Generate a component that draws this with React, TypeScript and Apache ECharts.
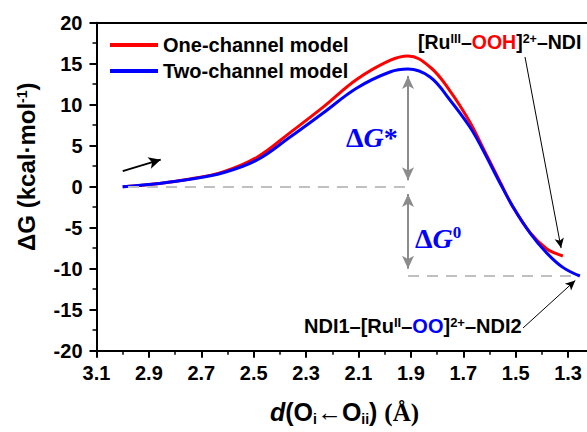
import React, { useEffect, useRef } from "react";
import * as echarts from "echarts";

const seriesNames = ["One-channel model", "Two-channel model"];

const oneChannelD = [3.0, 2.86, 2.743, 2.617, 2.487, 2.361, 2.235, 2.106, 1.98, 1.911, 1.827, 1.751, 1.675, 1.629, 1.56, 1.51, 1.445, 1.381, 1.342, 1.32];
const oneChannelG = [0, 0.4, 0.95, 1.8, 3.6, 6.6, 9.7, 13.1, 15.4, 15.94, 14.6, 11.7, 7.9, 5.0, 0.6, -2.5, -5.6, -7.6, -8.2, -8.45];

const twoChannelD = [3.0, 2.86, 2.743, 2.617, 2.487, 2.361, 2.235, 2.106, 1.98, 1.911, 1.827, 1.751, 1.675, 1.629, 1.56, 1.51, 1.445, 1.381, 1.32, 1.255];
const twoChannelG = [0, 0.4, 0.9, 1.7, 3.26, 6.06, 8.99, 12.04, 13.99, 14.35, 13.38, 10.57, 7.28, 4.72, 0.45, -2.47, -5.65, -8.1, -9.84, -10.89];

const xMin = 1.1;
const xMax = 3.1;
const xStep = 0.2;
const xFirstLabel = 1.3;
const yMin = -20;
const yMax = 20;
const yStep = 5;

// annotation anchors (data units)
const barrierD = 1.911;
const productG = -10.89;
const productD = 1.26;

const SANS = "'Liberation Sans', Arial, sans-serif";
const SERIF = "'Liberation Serif', 'Times New Roman', serif";

export default function App() {
  const ref = useRef<HTMLDivElement>(null);
  useEffect(() => {
    if (!ref.current) return;
    const chart = echarts.init(ref.current, undefined, { renderer: "svg" });
    const pair = (xs: number[], ys: number[]) => xs.map((x, i) => [x, ys[i]]);
    const sup = (size: number) => ({ fontSize: size, fontWeight: "bold", fontFamily: SANS, verticalAlign: "top", lineHeight: size, fill: "#000", color: "#000" });

    const grayArrow = { color: "#8c8c8c", width: 2, type: "solid" };
    const dashGray = { color: "#c0c0c0", width: 2, type: [11, 8] };
    const blackLine = { color: "#000", width: 1, type: "solid" };

    chart.setOption({
      animation: false,
      backgroundColor: "#fff",
      grid: { left: 96.5, top: 22.7, width: 524, height: 328, containLabel: false, outerBoundsMode: "none" },
      legend: {
        data: seriesNames,
        orient: "vertical",
        left: 105,
        top: 30,
        itemWidth: 48,
        itemHeight: 4,
        itemGap: 6,
        icon: "rect",
        textStyle: { fontFamily: SANS, fontWeight: "bold", fontSize: 20, color: "#000" },
      },
      xAxis: [
        {
          type: "value",
          min: xMin,
          max: xMax,
          interval: xStep,
          inverse: true,
          position: "bottom",
          axisLine: { show: true, onZero: false, lineStyle: { color: "#000", width: 2 } },
          axisTick: { show: true, inside: false, length: 7, lineStyle: { color: "#000", width: 2 } },
          minorTick: { show: true, splitNumber: 2, length: 4, lineStyle: { color: "#000", width: 1.5 } },
          splitLine: { show: false },
          axisLabel: {
            margin: 12,
            formatter: (v: number) => (v < xFirstLabel - 0.01 ? "" : v.toFixed(1)),
            fontFamily: SANS,
            fontWeight: "bold",
            fontSize: 20,
            color: "#000",
          },
          name: "{it|d}{n|(O}{sub|i}{n|←O}{sub|ii}{n|) }{serif|(Å)}",
          nameLocation: "middle",
          nameGap: 44,
          nameTextStyle: {
            padding: [0, 28, 0, 0],
            rich: {
              it: { fontFamily: SANS, fontStyle: "italic", fontWeight: "bold", fontSize: 25, color: "#000", verticalAlign: "top", lineHeight: 26 },
              n: { fontFamily: SANS, fontWeight: "bold", fontSize: 25, color: "#000", verticalAlign: "top", lineHeight: 26 },
              serif: { fontFamily: SERIF, fontWeight: "bold", fontSize: 25, color: "#000", verticalAlign: "top", lineHeight: 26 },
              sub: { fontFamily: SANS, fontWeight: "bold", fontSize: 14, color: "#000", verticalAlign: "bottom", lineHeight: 14, padding: [24, 0, 0, 0] },
            },
          },
        },
        {
          type: "value",
          min: xMin,
          max: xMax,
          interval: xStep,
          inverse: true,
          position: "top",
          axisLine: { show: true, onZero: false, lineStyle: { color: "#000", width: 2 } },
          axisTick: { show: false },
          axisLabel: { show: false },
          splitLine: { show: false },
        },
      ],
      yAxis: {
        type: "value",
        min: yMin,
        max: yMax,
        interval: yStep,
        axisLine: { show: true, onZero: false, lineStyle: { color: "#000", width: 2 } },
        axisTick: { show: true, inside: false, length: 7, lineStyle: { color: "#000", width: 2 } },
        minorTick: { show: true, splitNumber: 2, length: 4, lineStyle: { color: "#000", width: 1.5 } },
        splitLine: { show: false },
        axisLabel: { margin: 14, fontFamily: SANS, fontWeight: "bold", fontSize: 20, color: "#000" },
        name: "{n|ΔG (kcal·mol}{sup|-1}{n|)}",
        nameLocation: "middle",
        nameRotate: 90,
        nameGap: 56,
        nameTextStyle: {
          padding: [0, 0, 0, 40],
          rich: {
            n: { fontFamily: SANS, fontWeight: "bold", fontSize: 24, color: "#000", verticalAlign: "top", lineHeight: 26 },
            sup: sup(14),
          },
        },
      },
      series: [
        {
          name: seriesNames[0],
          type: "line",
          data: pair(oneChannelD, oneChannelG),
          smooth: 0.4,
          showSymbol: false,
          symbol: "none",
          lineStyle: { color: "#ff0000", width: 3 },
          itemStyle: { color: "#ff0000" },
          z: 3,
        },
        {
          name: seriesNames[1],
          type: "line",
          data: pair(twoChannelD, twoChannelG),
          smooth: 0.4,
          showSymbol: false,
          symbol: "none",
          lineStyle: { color: "#0000ff", width: 3 },
          itemStyle: { color: "#0000ff" },
          z: 4,
        },
        {
          name: "annotations",
          type: "line",
          data: [],
          silent: true,
          z: 2,
          markLine: {
            silent: true,
            animation: false,
            label: { show: false },
            emphasis: { disabled: true },
            data: [
              [
                { coord: [2.98, 0], symbol: "none", lineStyle: dashGray },
                { coord: [barrierD, 0], symbol: "none" },
              ],
              [
                { coord: [barrierD, productG], symbol: "none", lineStyle: dashGray },
                { coord: [productD, productG], symbol: "none" },
              ],
              [
                { coord: [barrierD, 0.8], symbol: "arrow", symbolSize: [9, 13], lineStyle: grayArrow, itemStyle: { color: "#8c8c8c" } },
                { coord: [barrierD, 13.5], symbol: "arrow", symbolSize: [9, 13] },
              ],
              [
                { coord: [barrierD, -0.9], symbol: "arrow", symbolSize: [9, 13], lineStyle: grayArrow, itemStyle: { color: "#8c8c8c" } },
                { coord: [barrierD, -10.0], symbol: "arrow", symbolSize: [9, 13] },
              ],
              [
                { coord: [3.0, 1.9], symbol: "none", lineStyle: { color: "#000", width: 2, type: "solid", curveness: -0.2 }, itemStyle: { color: "#000" } },
                { coord: [2.855, 3.3], symbol: "arrow", symbolSize: [9, 12] },
              ],
              [
                { coord: [1.4645, 15.82], symbol: "none", lineStyle: blackLine, itemStyle: { color: "#000" } },
                { coord: [1.3267, -7.49], symbol: "arrow", symbolSize: [7, 10] },
              ],
              [
                { coord: [1.472, -17.23], symbol: "none", lineStyle: blackLine, itemStyle: { color: "#000" } },
                { coord: [1.2725, -11.43], symbol: "arrow", symbolSize: [7, 10] },
              ],
            ],
          },
        },
      ],
      graphic: [
        {
          type: "text",
          x: 346,
          y: 137,
          silent: true,
          style: {
            text: "{a|Δ}{g|G}{a|*}",
            align: "left",
            verticalAlign: "middle",
            fill: "#0000ff",
            rich: {
              a: { fontFamily: SERIF, fontWeight: "bold", fontSize: 28, fill: "#0000ff" },
              g: { fontFamily: SERIF, fontWeight: "bold", fontStyle: "italic", fontSize: 28, fill: "#0000ff" },
            },
          },
        },
        {
          type: "text",
          x: 415,
          y: 238,
          silent: true,
          style: {
            text: "{a|Δ}{g|G}{s|0}",
            align: "left",
            verticalAlign: "middle",
            fill: "#0000ff",
            rich: {
              a: { fontFamily: SERIF, fontWeight: "bold", fontSize: 28, fill: "#0000ff", verticalAlign: "top", lineHeight: 28 },
              g: { fontFamily: SERIF, fontWeight: "bold", fontStyle: "italic", fontSize: 28, fill: "#0000ff", verticalAlign: "top", lineHeight: 28 },
              s: { fontFamily: SERIF, fontWeight: "bold", fontSize: 17, fill: "#0000ff", verticalAlign: "top", lineHeight: 17 },
            },
          },
        },
        {
          type: "text",
          x: 418,
          y: 43,
          silent: true,
          style: {
            text: "{b|[Ru}{s|III}{b|–}{r|OOH}{b|]}{s|2+}{b|–NDI}",
            align: "left",
            verticalAlign: "middle",
            fill: "#000",
            rich: {
              b: { fontFamily: SANS, fontWeight: "bold", fontSize: 19.5, fill: "#000", verticalAlign: "top", lineHeight: 22 },
              r: { fontFamily: SANS, fontWeight: "bold", fontSize: 19.5, fill: "#ff0000", verticalAlign: "top", lineHeight: 22 },
              s: sup(12.5),
            },
          },
        },
        {
          type: "text",
          x: 304,
          y: 327,
          silent: true,
          style: {
            text: "{b|NDI1–[Ru}{s|II}{b|–}{u|OO}{b|]}{s|2+}{b|–NDI2}",
            align: "left",
            verticalAlign: "middle",
            fill: "#000",
            rich: {
              b: { fontFamily: SANS, fontWeight: "bold", fontSize: 20, fill: "#000", verticalAlign: "top", lineHeight: 22 },
              u: { fontFamily: SANS, fontWeight: "bold", fontSize: 20, fill: "#0000ff", verticalAlign: "top", lineHeight: 22 },
              s: sup(13),
            },
          },
        },
      ],
    });
    return () => chart.dispose();
  }, []);
  return <div ref={ref} style={{ position: "fixed", left: 0, top: 0, width: 587, height: 432 }} />;
}
